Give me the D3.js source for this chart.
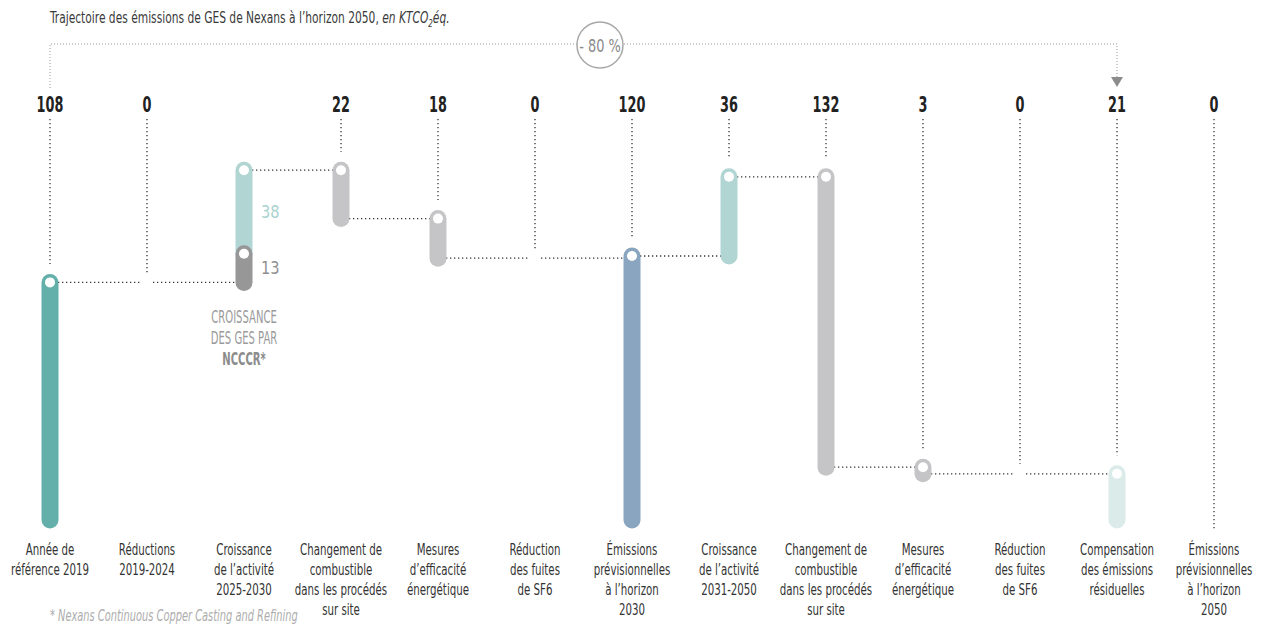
<!DOCTYPE html>
<html>
<head>
<meta charset="utf-8">
<script src="https://cdn.jsdelivr.net/npm/d3@7"></script>
<style>
  html, body { margin: 0; padding: 0; background: #fff; }
  svg { display: block; }
</style>
</head>
<body>
<svg id="chart" width="1262" height="626"></svg>
<script>
// ---- data -------------------------------------------------------------
const columns = ["ref2019", "red2024", "grow2030", "fuel2030", "eff2030", "sf6_2030",
                 "total2030", "grow2050", "fuel2050", "eff2050", "sf6_2050", "offset2050", "total2050"];

// figure shown above each column (null = none)
const headerValues = [108, 0, null, 22, 18, 0, 120, 36, 132, 3, 0, 21, 0];

// signed steps per column (kt CO2e); a column may hold several stacked parts
const steps = [[108], [0], [13, 38], [-22], [-18], [0], [120], [36], [-132], [-3], [0], [-21], [0]];

// totals restart the running level from zero
const isTotal = [true, false, false, false, false, false, true, false, false, false, false, false, true];

// side labels for the stacked growth column
const growthLabels = ["13", "38"];

const columnLabels = [
  ["Année de", "référence 2019"],
  ["Réductions", "2019-2024"],
  ["Croissance", "de l’activité", "2025-2030"],
  ["Changement de", "combustible", "dans les procédés", "sur site"],
  ["Mesures", "d’efficacité", "énergétique"],
  ["Réduction", "des fuites", "de SF6"],
  ["Émissions", "prévisionnelles", "à l’horizon", "2030"],
  ["Croissance", "de l’activité", "2031-2050"],
  ["Changement de", "combustible", "dans les procédés", "sur site"],
  ["Mesures", "d’efficacité", "énergétique"],
  ["Réduction", "des fuites", "de SF6"],
  ["Compensation", "des émissions", "résiduelles"],
  ["Émissions", "prévisionnelles", "à l’horizon", "2050"]
];

const reductionLabel = "- 80 %";
const ncccrNote = ["CROISSANCE", "DES GES PAR", "NCCCR*"];
const footnote = "* Nexans Continuous Copper Casting and Refining";

// ---- styles -----------------------------------------------------------
const partColors = [
  ["#63b0aa"], [null], ["#979797", "#b1d5d3"], ["#c5c5c7"], ["#c5c5c7"], [null],
  ["#8aa5bf"], ["#b1d5d3"], ["#c5c5c7"], ["#c5c5c7"], [null], ["#dbebe9"], [null]
];
const FONT = "'DejaVu Sans Condensed', 'Liberation Sans Narrow', 'Liberation Sans', sans-serif";
const BAR_W = 17;
const CAP = BAR_W / 2;

// ---- scales -----------------------------------------------------------
const svg = d3.select("#chart");
const x = d3.scalePoint().domain(columns).range([50, 1214]);
const y = d3.scaleLinear().domain([0, 160]).range([520, 168]);

// condensed text: horizontal squeeze around the anchor point
function label(g, px, py, str, opt) {
  return g.append("text")
    .attr("transform", `translate(${px},${py}) scale(${opt.sx || 1},1)`)
    .attr("text-anchor", opt.anchor || "middle")
    .attr("font-family", FONT)
    .attr("font-size", opt.size)
    .attr("font-weight", opt.weight || "normal")
    .attr("font-style", opt.style || "normal")
    .attr("fill", opt.fill || "#333")
    .text(str);
}

// ---- build segments and running levels ------------------------------
const segments = [];
const endLevel = [];
let level = 0;
columns.forEach((c, i) => {
  if (isTotal[i]) level = 0;
  steps[i].forEach((v, k) => {
    if (v !== 0) {
      segments.push({ col: c, i, k, from: level, to: level + v, color: partColors[i][k] });
    }
    level += v;
  });
  endLevel.push(level);
});
const isZero = i => steps[i].every(v => v === 0);

const gLines = svg.append("g");
const gBars = svg.append("g");
const gText = svg.append("g");

const dotted = sel => sel.attr("stroke", "#333").attr("stroke-width", 1.3)
  .attr("stroke-dasharray", "1.3,2.7").attr("fill", "none");

// horizontal connectors between consecutive columns
for (let i = 0; i < columns.length - 1; i++) {
  const lv = endLevel[i];
  if (lv === 0) continue;
  const x1 = x(columns[i]) + (isZero(i) ? 6 : 0);
  const x2 = x(columns[i + 1]) - (isZero(i + 1) ? 6 : 0);
  gLines.append("line").call(dotted)
    .attr("x1", x1).attr("x2", x2).attr("y1", y(lv)).attr("y2", y(lv));
}

// vertical leaders from the header figures
columns.forEach((c, i) => {
  if (headerValues[i] === null) return;
  let yEnd;
  const segs = segments.filter(s => s.i === i);
  if (segs.length) {
    const top = d3.max(segs, s => Math.max(s.from, s.to));
    yEnd = y(top) - CAP - 10;
  } else if (isTotal[i]) {
    yEnd = y(0) + CAP;
  } else {
    yEnd = y(endLevel[i]) - 10;
  }
  gLines.append("line").call(dotted)
    .attr("x1", x(c)).attr("x2", x(c)).attr("y1", 119).attr("y2", yEnd);
});

// pill bars, upper parts first so lower parts overlap them
const drawOrder = segments.slice().sort((a, b) => a.i - b.i || b.k - a.k);
gBars.selectAll("line.bar").data(drawOrder).join("line")
  .attr("class", "bar")
  .attr("x1", d => x(d.col)).attr("x2", d => x(d.col))
  .attr("y1", d => y(Math.max(d.from, d.to)))
  .attr("y2", d => y(Math.min(d.from, d.to)))
  .attr("stroke", d => d.color)
  .attr("stroke-width", BAR_W)
  .attr("stroke-linecap", "round");

gBars.selectAll("circle.dot").data(drawOrder).join("circle")
  .attr("class", "dot")
  .attr("cx", d => x(d.col))
  .attr("cy", d => y(Math.max(d.from, d.to)))
  .attr("r", 5)
  .attr("fill", "#fff");

// ---- header figures ---------------------------------------------------
columns.forEach((c, i) => {
  if (headerValues[i] === null) return;
  label(gText, x(c), 112, String(headerValues[i]), { size: 21, weight: "bold", sx: 0.68, fill: "#222" });
});

// ---- column labels ----------------------------------------------------
columns.forEach((c, i) => {
  columnLabels[i].forEach((line, j) => {
    label(gText, x(c), 555 + j * 20, line, { size: 16.5, sx: 0.69, fill: "#333" });
  });
});

// ---- growth split labels ---------------------------------------------
segments.filter(s => s.col === "grow2030").forEach(s => {
  const mid = (s.from + s.to) / 2;
  label(gText, x(s.col) + 17, y(mid) + 6, growthLabels[s.k],
    { size: 18, sx: 0.9, anchor: "start", fill: s.k === 0 ? "#8f8f8f" : "#a9d3cf" });
});
ncccrNote.forEach((line, j) => {
  label(gText, x("grow2030"), 323 + j * 21, line,
    { size: 18, sx: 0.62, fill: j === 2 ? "#8c8c8c" : "#9a9a9a", weight: j === 2 ? "bold" : "normal" });
});

// ---- overall reduction bracket ----------------------------------------
const xa = x(columns[0]);
const xb = x("offset2050");
const yBr = 44;
svg.insert("path", ":first-child")
  .attr("d", `M${xa},88 V${yBr} H${xb} V77`)
  .attr("stroke", "#9a9a9a").attr("stroke-width", 1)
  .attr("stroke-dasharray", "1,2").attr("fill", "none");
svg.append("path")
  .attr("d", d3.line()([[xb - 6, 77], [xb + 6, 77], [xb, 87]]) + "Z")
  .attr("fill", "#8c8c8c");
svg.append("circle")
  .attr("cx", 600).attr("cy", 45).attr("r", 23)
  .attr("fill", "#fff").attr("stroke", "#a8a8a8").attr("stroke-width", 1.5);
label(svg, 600, 52, reductionLabel, { size: 18, sx: 0.8, fill: "#8a8a8a" });

// ---- title ------------------------------------------------------------
const title = svg.append("text")
  .attr("transform", "translate(50,23) scale(0.72,1)")
  .attr("font-family", FONT).attr("font-size", 16.5).attr("fill", "#3a3a3a");
title.append("tspan").text("Trajectoire des émissions de GES de Nexans à l’horizon 2050, ");
title.append("tspan").attr("font-style", "italic").text("en KTCO");
title.append("tspan").attr("font-style", "italic").attr("font-size", 11).attr("dy", 4).text("2");
title.append("tspan").attr("font-style", "italic").attr("dy", -4).text("éq.");

// ---- footnote ---------------------------------------------------------
label(svg, 50, 621, footnote, { size: 15, sx: 0.73, anchor: "start", style: "italic", fill: "#adadad" });
</script>
</body>
</html>
